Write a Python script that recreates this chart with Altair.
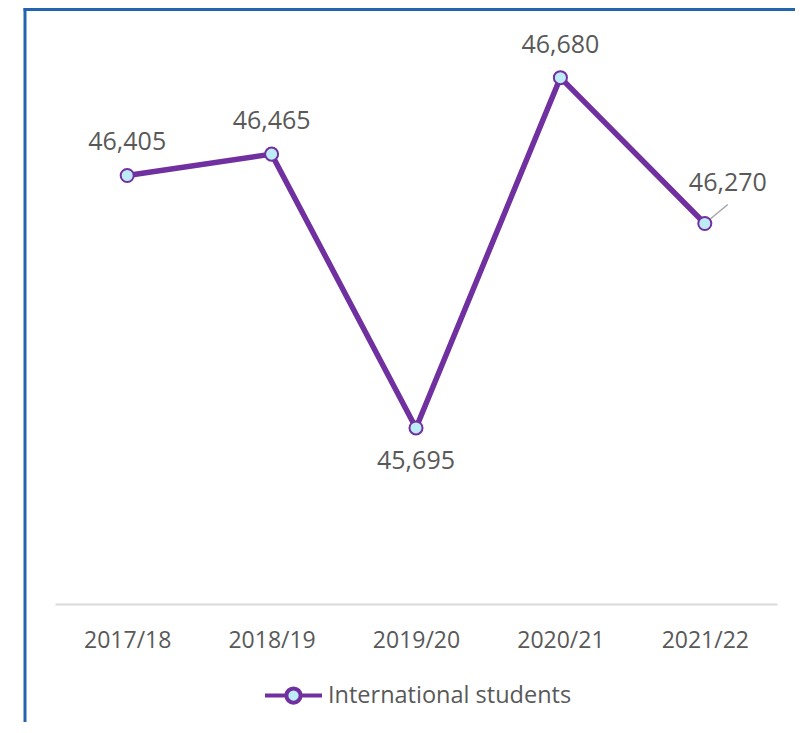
import altair as alt
import pandas as pd

years = ["2017/18", "2018/19", "2019/20", "2020/21", "2021/22"]
values = [46405, 46465, 45695, 46680, 46270]
series_name = "International students"

df = pd.DataFrame({"year": years, "value": values, "series": [series_name] * len(years)})
df["label"] = df["value"].map(lambda v: f"{v:,}")

PURPLE = "#7030A0"
MARKER_FILL = "#BDEBF8"
FONT = "Open Sans"

x_enc = alt.X("year:N", sort=years, scale=alt.Scale(type="point", padding=0.5),
              axis=alt.Axis(title=None, labelAngle=0, ticks=False, grid=False,
                            domainColor="#D9D9D9", domainWidth=2,
                            labelFontSize=23, labelFont=FONT, labelColor="#595959",
                            labelPadding=25))
y_enc = alt.Y("value:Q", scale=alt.Scale(domain=[45200, 46800], nice=False, zero=False), axis=None)

base = alt.Chart(df)

legend_path = ("M-1,0H-0.25M0.25,0H1"
               "M-0.25,0A0.25,0.25,0,1,1,0.25,0A0.25,0.25,0,1,1,-0.25,0Z")

line = base.mark_line(strokeWidth=5.5).encode(
    x=x_enc, y=y_enc,
    color=alt.Color("series:N", scale=alt.Scale(range=[PURPLE]),
                    legend=alt.Legend(title=None, orient="none", legendX=208, legendY=630,
                                      symbolType=legend_path,
                                      symbolSize=3249, symbolStrokeWidth=4,
                                      symbolFillColor=MARKER_FILL,
                                      labelFontSize=23.5, labelFont=FONT, labelLimit=500,
                                      labelColor="#595959", labelOffset=4))
)

leader = base.transform_filter(alt.datum.year == "2021/22").mark_rule(
    color="#A6A6A6", strokeWidth=1.5, x2Offset=23, y2Offset=-19
).encode(x=x_enc, y=y_enc, x2="year:N", y2="value:Q")

points = base.mark_point(shape="circle", size=170, filled=True, fill=MARKER_FILL, fillOpacity=1,
                         stroke=PURPLE, strokeWidth=2, opacity=1).encode(x=x_enc, y=y_enc)

text_style = dict(font=FONT, fontSize=25, color="#595959", baseline="alphabetic", align="center")

labels_above = base.transform_filter(
    alt.FieldOneOfPredicate(field="year", oneOf=["2017/18", "2018/19", "2020/21"])
).mark_text(dy=-25, **text_style).encode(x=x_enc, y=y_enc, text="label:N")

labels_below = base.transform_filter(alt.datum.year == "2019/20").mark_text(
    dy=41, **text_style).encode(x=x_enc, y=y_enc, text="label:N")

labels_right = base.transform_filter(alt.datum.year == "2021/22").mark_text(
    dy=-32, dx=23, **text_style).encode(x=x_enc, y=y_enc, text="label:N")

frame_df = pd.DataFrame({"k": [0]})
left_border = alt.Chart(frame_df).mark_rule(color="#2264AE", strokeWidth=3).encode(
    x=alt.value(-30), y=alt.value(-27), y2=alt.value(687))
top_border = alt.Chart(frame_df).mark_rule(color="#2264AE", strokeWidth=3).encode(
    x=alt.value(-31.5), x2=alt.value(740), y=alt.value(-25.5))

chart = alt.layer(
    left_border, top_border, line, leader, points, labels_above, labels_below, labels_right
).properties(
    width=722, height=569,
    autosize=alt.AutoSizeParams(type="none"),
    padding={"left": 47, "top": 27, "right": 18, "bottom": 118},
).configure_view(stroke=None)

chart.save("out.html", embed_options={"renderer": "svg", "actions": False})
